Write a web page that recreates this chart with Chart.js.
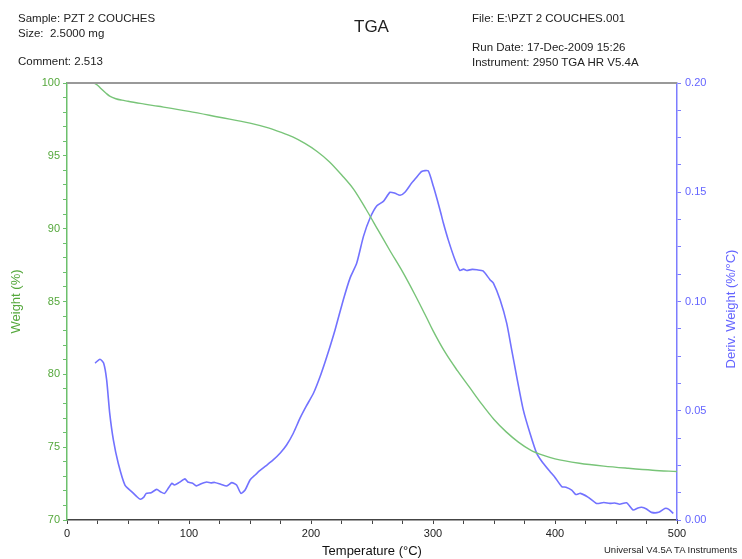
<!DOCTYPE html>
<html>
<head>
<meta charset="utf-8">
<script src="https://cdn.jsdelivr.net/npm/chart.js@4.4.0/dist/chart.umd.min.js"></script>
<style>
  body { margin:0; background:#fff; }
  #wrap { position:relative; width:742px; height:559px; font-family:"Liberation Sans", Arial, sans-serif; }
  canvas { position:absolute; left:0; top:0; }
  .txt { position:absolute; font-size:11.5px; color:#222; white-space:nowrap; line-height:13px; }
</style>
</head>
<body>
<div id="wrap">
  <canvas id="tga" width="742" height="559"></canvas>
  <div class="txt" style="left:18px;top:12px">Sample: PZT 2 COUCHES</div>
  <div class="txt" style="left:18px;top:27px">Size:&nbsp; 2.5000 mg</div>
  <div class="txt" style="left:18px;top:55px">Comment: 2.513</div>
  <div class="txt" style="left:354px;top:17px;font-size:17px;line-height:19px">TGA</div>
  <div class="txt" style="left:472px;top:12px">File: E:\PZT 2 COUCHES.001</div>
  <div class="txt" style="left:472px;top:41px">Run Date: 17-Dec-2009 15:26</div>
  <div class="txt" style="left:472px;top:56px">Instrument: 2950 TGA HR V5.4A</div>
  <div class="txt" style="left:604px;top:543px;font-size:9.5px">Universal V4.5A TA Instruments</div>
</div>
<script>
// weight loss curve (%)
var weightT = [22,25,28,32,35,40,45,50,60,75,100,125,150,165,175,185,195,205,215,225,235,245,255,265,275,285,295,300,310,320,330,340,350,360,370,380,390,400,420,440,460,480,500];
var weightPct = [100,99.85,99.6,99.3,99.1,98.92,98.82,98.75,98.6,98.4,98.05,97.65,97.25,96.92,96.63,96.3,95.85,95.3,94.6,93.7,92.7,91.35,89.9,88.45,87.05,85.5,83.85,83.0,81.5,80.25,79.1,77.95,76.9,76.05,75.35,74.8,74.45,74.2,73.9,73.7,73.55,73.42,73.33];

// derivative weight (%/°C)
var derivT = [23,27,30,32.5,35,38,42,47.5,53,57,60,63,65,69,73.5,77,80,83,86,88,92,96.7,99,103,106,110,114.5,118,121,126,131,135,139,142.6,146,150,154,158,163,169,175,180,185.5,191,196,202,208,213,219.7,226.5,232,237.5,243,248.4,254,259.3,264.8,269,273,277,282.5,286,290.7,296,300.3,305.7,308.5,312.5,318,322,325,327.6,332,336,341,346.7,349.5,355,360.4,364.5,368.6,374,379.5,385,390,396,400,405.5,409,413.7,417,420.8,427,434,440,445,449,453,458.7,464,468,471,475,479,485,490,493,497];
var derivVal = [0.0718,0.0736,0.0718,0.0641,0.0489,0.0367,0.026,0.016,0.013,0.0108,0.0095,0.0105,0.0122,0.0125,0.014,0.0128,0.0122,0.0145,0.0168,0.016,0.0172,0.0188,0.0174,0.0168,0.0156,0.0166,0.0174,0.017,0.0172,0.0164,0.0156,0.0171,0.016,0.0122,0.0137,0.0183,0.0205,0.0226,0.0248,0.0275,0.0308,0.0343,0.0397,0.0466,0.052,0.058,0.0665,0.0748,0.087,0.1008,0.1107,0.1176,0.1298,0.1382,0.1438,0.1458,0.15,0.1495,0.1486,0.15,0.1542,0.1565,0.1595,0.1598,0.1527,0.142,0.1359,0.1282,0.1191,0.1142,0.1148,0.1142,0.1147,0.1145,0.114,0.11,0.1084,0.1008,0.0901,0.0779,0.0656,0.0504,0.0397,0.0305,0.0262,0.0221,0.0195,0.0153,0.015,0.0137,0.0117,0.0122,0.0105,0.0076,0.008,0.0076,0.0078,0.0072,0.0079,0.0046,0.0055,0.0058,0.005,0.0035,0.0035,0.0053,0.005,0.003];

var greenLine = '#78c478', greenAxis = '#6cc06c', greenText = '#55a83c';
var blueLine = '#7272ff', blueAxis = '#7c7cff', blueText = '#6464ff';

function pts(xs, ys) {
  return xs.map(function (x, i) { return {x: x, y: ys[i]}; });
}
function isMajor(v, step) {
  var r = v / step;
  return Math.abs(r - Math.round(r)) < 1e-6;
}

// gray line across the top + right-hand axis title (reads upward)
var frame = {
  id: 'frame',
  afterDraw: function (chart) {
    var ctx = chart.ctx, a = chart.chartArea;
    ctx.save();
    ctx.strokeStyle = '#999';
    ctx.lineWidth = 2;
    ctx.beginPath();
    ctx.moveTo(a.left, a.top);
    ctx.lineTo(a.right, a.top);
    ctx.stroke();
    ctx.translate(731, 309);
    ctx.rotate(-Math.PI / 2);
    ctx.fillStyle = blueText;
    ctx.font = '13px "Liberation Sans", Arial, sans-serif';
    ctx.textAlign = 'center';
    ctx.textBaseline = 'middle';
    ctx.fillText('Deriv. Weight (%/°C)', 0, 0);
    ctx.restore();
  }
};

var font = {family: '"Liberation Sans", Arial, sans-serif', size: 11};

new Chart(document.getElementById('tga'), {
  type: 'line',
  data: {
    datasets: [
      {
        label: 'Weight',
        data: pts(weightT, weightPct),
        yAxisID: 'y',
        borderColor: greenLine,
        borderWidth: 1.4,
        pointRadius: 0,
        cubicInterpolationMode: 'monotone'
      },
      {
        label: 'Deriv. Weight',
        data: pts(derivT, derivVal),
        yAxisID: 'y1',
        borderColor: blueLine,
        borderWidth: 1.6,
        pointRadius: 0,
        tension: 0.2
      }
    ]
  },
  options: {
    responsive: false,
    animation: false,
    layout: {padding: {top: 83, left: 0, right: 0, bottom: 0}},
    plugins: {legend: {display: false}, tooltip: {enabled: false}},
    scales: {
      x: {
        type: 'linear',
        min: 0, max: 500,
        afterFit: function (s) { s.height = 39; },
        ticks: {
          stepSize: 25, autoSkip: false, maxRotation: 0, padding: 3,
          color: '#222', font: font,
          callback: function (v) { return isMajor(v, 100) ? String(v) : ''; }
        },
        grid: {drawOnChartArea: false, tickLength: 4, color: '#444'},
        border: {color: '#444', width: 1.5},
        title: {display: true, text: 'Temperature (°C)', color: '#111',
                font: {family: font.family, size: 13}, padding: {top: 0, bottom: 0}}
      },
      y: {
        position: 'left',
        min: 70, max: 100,
        afterFit: function (s) { s.width = 67; },
        ticks: {
          stepSize: 1, autoSkip: false, padding: 3,
          color: greenText, font: font,
          callback: function (v) { return isMajor(v, 5) ? String(v) : ''; }
        },
        grid: {drawOnChartArea: false, tickLength: 4, color: greenAxis},
        border: {color: greenAxis, width: 1.5},
        title: {display: true, text: 'Weight (%)', color: greenText,
                font: {family: font.family, size: 13}, padding: {top: 9, bottom: 0}}
      },
      y1: {
        position: 'right',
        min: 0, max: 0.2,
        afterFit: function (s) { s.width = 65; },
        ticks: {
          stepSize: 0.0125, autoSkip: false, padding: 4,
          color: blueText, font: font,
          callback: function (v) { return isMajor(v, 0.05) ? v.toFixed(2) : ''; }
        },
        grid: {drawOnChartArea: false, tickLength: 4, color: blueAxis},
        border: {color: blueAxis, width: 1.5}
      }
    }
  },
  plugins: [frame]
});
</script>
</body>
</html>
